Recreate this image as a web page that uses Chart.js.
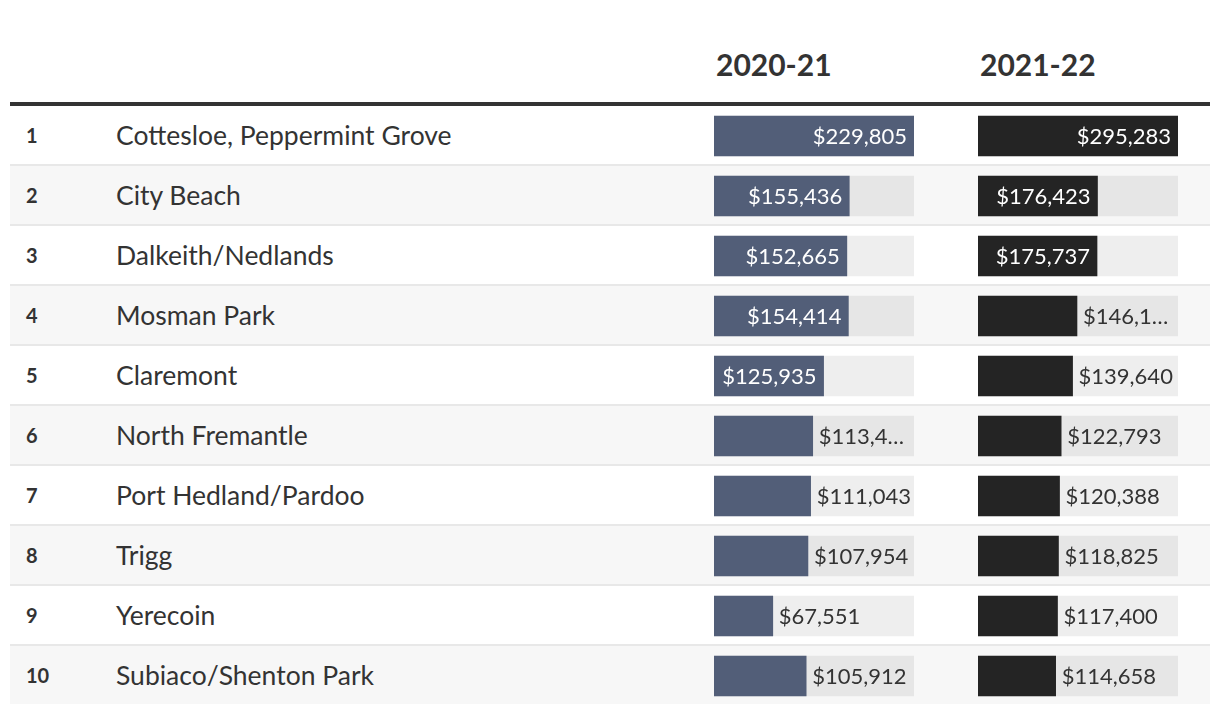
<!DOCTYPE html>
<html>
<head>
<meta charset="utf-8">
<script src="https://cdn.jsdelivr.net/npm/chart.js@4"></script>
<style>
  body { margin: 0; background: #fff; font-family: Lato, sans-serif; color: #333; }
  #wrap { position: relative; width: 1220px; height: 714px; }
  .head { position: absolute; top: 46px; font-weight: bold; font-size: 30px; color: #333; }
  .rule { position: absolute; left: 10px; width: 1200px; top: 102px; height: 4px; background: #333; }
  .row { position: absolute; left: 10px; width: 1200px; height: 58px; border-bottom: 2px solid #e8e8e8; }
  .row.even { background: #f7f7f7; }
  .row.last { border-bottom: none; }
  .rank { position: absolute; left: 16px; top: 0; line-height: 58px; font-weight: bold; font-size: 20px; }
  .name { position: absolute; left: 106px; top: 0; line-height: 58px; font-size: 26.5px; }
  canvas { position: absolute; }
</style>
</head>
<body>
<div id="wrap"></div>
<script>
const columns = ['2020-21', '2021-22'];
const ranks = [1, 2, 3, 4, 5, 6, 7, 8, 9, 10];
const suburbs = ['Cottesloe, Peppermint Grove', 'City Beach', 'Dalkeith/Nedlands', 'Mosman Park', 'Claremont',
  'North Fremantle', 'Port Hedland/Pardoo', 'Trigg', 'Yerecoin', 'Subiaco/Shenton Park'];
const income2021 = [229805, 155436, 152665, 154414, 125935, 113450, 111043, 107954, 67551, 105912];
const income2122 = [295283, 176423, 175737, 146150, 139640, 122793, 120388, 118825, 117400, 114658];

const wrap = document.getElementById('wrap');
const colLeft = [714, 978];
const colors = ['#525e78', '#242424'];
const rowTop = 106, rowH = 60, barW = 200;

columns.forEach((c, i) => {
  const d = document.createElement('div');
  d.className = 'head';
  d.style.left = (colLeft[i] + 2) + 'px';
  d.textContent = c;
  wrap.appendChild(d);
});
const rule = document.createElement('div');
rule.className = 'rule';
wrap.appendChild(rule);

suburbs.forEach((s, i) => {
  const r = document.createElement('div');
  r.className = 'row' + (i % 2 ? ' even' : '') + (i == suburbs.length - 1 ? ' last' : '');
  r.style.top = (rowTop + i * rowH) + 'px';
  r.innerHTML = '<span class="rank">' + ranks[i] + '</span><span class="name">' + s + '</span>';
  wrap.appendChild(r);
});

const fmt = v => '$' + v.toLocaleString('en-US');

function fitText(ctx, t, maxW) {
  if (ctx.measureText(t).width <= maxW) return t;
  let s = t;
  while (s.length > 1 && ctx.measureText(s + '…').width > maxW) s = s.slice(0, -1);
  return s + '…';
}

const valueLabels = {
  id: 'valueLabels',
  afterDatasetsDraw(chart) {
    const ctx = chart.ctx;
    const meta = chart.getDatasetMeta(0);
    const right = chart.chartArea.right;
    ctx.save();
    ctx.font = '22px Lato';
    ctx.textBaseline = 'middle';
    meta.data.forEach((bar, i) => {
      const txt = fmt(chart.data.datasets[0].data[i]);
      const w = ctx.measureText(txt).width;
      const bw = bar.x - bar.base;
      if (w + 14 <= bw) {
        ctx.fillStyle = '#fff';
        ctx.textAlign = 'right';
        ctx.fillText(txt, bar.x - 7, bar.y + 1);
      } else {
        ctx.fillStyle = '#333';
        ctx.textAlign = 'left';
        ctx.fillText(fitText(ctx, txt, right - bar.x - 8), bar.x + 6, bar.y + 1);
      }
    });
    ctx.restore();
  }
};

function makeChart(values, i) {
  const cv = document.createElement('canvas');
  cv.width = barW;
  cv.height = rowH * suburbs.length;
  cv.style.left = colLeft[i] + 'px';
  cv.style.top = rowTop + 'px';
  wrap.appendChild(cv);
  const max = Math.max(...values);
  new Chart(cv, {
    type: 'bar',
    data: {
      labels: suburbs,
      datasets: [
        { data: values, backgroundColor: colors[i], barThickness: 40, grouped: false, order: 0 },
        { data: values.map(() => max), backgroundColor: 'rgba(0,0,0,0.065)', barThickness: 40, grouped: false, order: 1 }
      ]
    },
    options: {
      indexAxis: 'y',
      responsive: false,
      animation: false,
      layout: { padding: 0 },
      plugins: { legend: { display: false }, tooltip: { enabled: false } },
      scales: {
        x: { display: false, min: 0, max: max },
        y: { display: false }
      }
    },
    plugins: [valueLabels]
  });
}

makeChart(income2021, 0);
makeChart(income2122, 1);
</script>
</body>
</html>
